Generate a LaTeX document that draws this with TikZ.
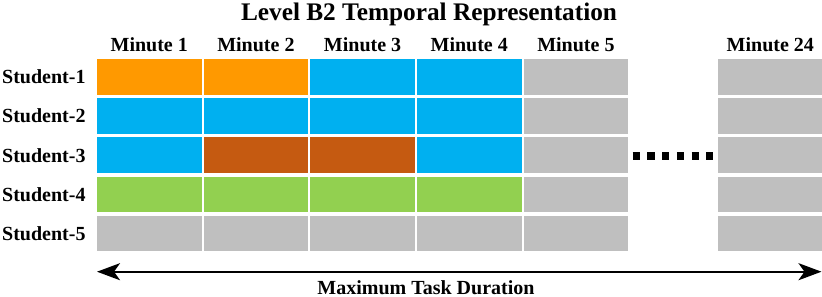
\documentclass[tikz,border=0pt]{standalone}
\usepackage{fontspec}
\setmainfont{Liberation Serif}
\usetikzlibrary{arrows.meta}
\definecolor{corange}{HTML}{FF9900}
\definecolor{cblue}{HTML}{00B0F0}
\definecolor{cbrown}{HTML}{C55A11}
\definecolor{cgreen}{HTML}{92D050}
\definecolor{cgray}{HTML}{BFBFBF}
\tikzset{
  cell/.style={rectangle, fill=#1, draw=none, inner sep=0pt, minimum width=104.5pt, minimum height=35.6pt},
  lbl/.style={font=\fontsize{20}{22}\selectfont\bfseries, inner sep=0pt},
  ttl/.style={font=\fontsize{25.3}{28}\selectfont\bfseries, inner sep=0pt},
  axisarrow/.style={line width=2.3pt, {Stealth[length=23pt,width=17pt,inset=6pt]}-{Stealth[length=23pt,width=17pt,inset=6pt]}},
  ellipsisdots/.style={line width=7.7pt, dash pattern=on 7.3pt off 7.4pt}
}
\begin{document}
\begin{tikzpicture}[x=1pt,y=-1pt]
\useasboundingbox (0,0) rectangle (822,297);
% title
\node[ttl, anchor=base] (title) at (429,20) {Level B2 Temporal Representation};
% minute labels
\foreach \i/\cx/\t in {1/149.25/Minute 1, 2/255.9/Minute 2, 3/362.6/Minute 3, 4/469.25/Minute 4, 5/575.9/Minute 5, 24/770.3/Minute 24}
  \node[lbl, anchor=base] (m\i) at (\cx,51) {\t};
% student labels
\foreach \j in {1,...,5}
  \node[lbl, anchor=base west] (s\j) at (2,{76.8+(\j-1)*39.2+6.8}) {Student-\j};
% cells
\foreach \j/\ca/\cb/\cc/\cd in {1/corange/corange/cblue/cblue, 2/cblue/cblue/cblue/cblue, 3/cblue/cbrown/cbrown/cblue, 4/cgreen/cgreen/cgreen/cgreen, 5/cgray/cgray/cgray/cgray}{
  \pgfmathsetmacro{\ry}{76.8+(\j-1)*39.2}
  \node[cell=\ca] (c\j-1) at (149.25,\ry) {};
  \node[cell=\cb] (c\j-2) at (255.9,\ry) {};
  \node[cell=\cc] (c\j-3) at (362.6,\ry) {};
  \node[cell=\cd] (c\j-4) at (469.25,\ry) {};
  \node[cell=cgray] (c\j-5) at (575.9,\ry) {};
  \node[cell=cgray] (c\j-24) at (770.55,\ry) {};
}
% ellipsis
\coordinate (d1) at (632.7,156);
\coordinate (d2) at (712.5,156);
\draw[ellipsisdots] (d1) -- (d2);
% duration arrow
\coordinate (aL) at (97,271.7);
\coordinate (aR) at (821.5,271.7);
\draw[axisarrow] (aL) -- (aR);
\node[lbl, anchor=base] (dur) at (426,294) {Maximum Task Duration};
\end{tikzpicture}
\end{document}
